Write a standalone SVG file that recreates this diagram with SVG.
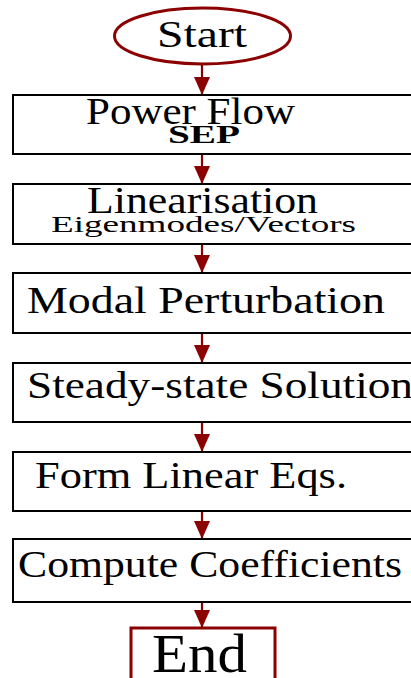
<svg xmlns="http://www.w3.org/2000/svg" width="411" height="678" viewBox="0 0 411 678">
<defs>
<style>
.box{fill:#fff;stroke:#000;stroke-width:2}
.term{fill:#fff;stroke:#8b0000;stroke-width:3}
.t{font-family:"Liberation Serif","Times New Roman",serif;font-size:37px;fill:#000}
.edge{stroke:#8b0000;stroke-width:2.2;fill:none;marker-end:url(#ah)}
</style>
<marker id="ah" viewBox="0 0 18 16" refX="18" refY="8" markerWidth="18" markerHeight="16" orient="auto" markerUnits="userSpaceOnUse">
<path d="M0,0 L18,8 L0,16 z" fill="#8b0000"/>
</marker>
</defs>
<g id="edges">
<line class="edge" x1="202" y1="65" x2="202" y2="95"/>
<line class="edge" x1="202" y1="154" x2="202" y2="184"/>
<line class="edge" x1="202" y1="244" x2="202" y2="273"/>
<line class="edge" x1="202" y1="333" x2="202" y2="363"/>
<line class="edge" x1="202" y1="422" x2="202" y2="452"/>
<line class="edge" x1="202" y1="511" x2="202" y2="539"/>
<line class="edge" x1="202" y1="602" x2="202" y2="628"/>
</g>
<g id="start">
<ellipse class="term" cx="202.5" cy="36" rx="88" ry="28"/>
<text class="t" x="157" y="47" textLength="90" lengthAdjust="spacingAndGlyphs">Start</text>
</g>
<g id="powerflow">
<rect class="box" x="13" y="95" width="410" height="59"/>
<text class="t" x="86" y="124" textLength="209" lengthAdjust="spacingAndGlyphs">Power Flow</text>
<text class="t" x="168" y="143" style="font-size:26px;font-weight:bold" textLength="72" lengthAdjust="spacingAndGlyphs">SEP</text>
</g>
<g id="linearisation">
<rect class="box" x="13" y="184" width="410" height="60"/>
<text class="t" x="87" y="213" textLength="231" lengthAdjust="spacingAndGlyphs">Linearisation</text>
<text class="t" x="51" y="232" style="font-size:24px" textLength="305" lengthAdjust="spacingAndGlyphs">Eigenmodes/Vectors</text>
</g>
<g id="modal">
<rect class="box" x="13" y="273" width="410" height="60"/>
<text class="t" x="27" y="313" textLength="358" lengthAdjust="spacingAndGlyphs">Modal Perturbation</text>
</g>
<g id="steady">
<rect class="box" x="13" y="363" width="410" height="59"/>
<text class="t" x="27" y="398" textLength="386" lengthAdjust="spacingAndGlyphs">Steady-state Solution</text>
</g>
<g id="formlinear">
<rect class="box" x="13" y="452" width="410" height="59"/>
<text class="t" x="35" y="488" textLength="312" lengthAdjust="spacingAndGlyphs">Form Linear Eqs.</text>
</g>
<g id="compute">
<rect class="box" x="13" y="539" width="410" height="63"/>
<text class="t" x="18" y="577" textLength="384" lengthAdjust="spacingAndGlyphs">Compute Coefficients</text>
</g>
<g id="end">
<rect class="term" x="131" y="628" width="144" height="70"/>
<text class="t" x="152" y="672" style="font-size:55px" textLength="95" lengthAdjust="spacingAndGlyphs">End</text>
</g>
</svg>
